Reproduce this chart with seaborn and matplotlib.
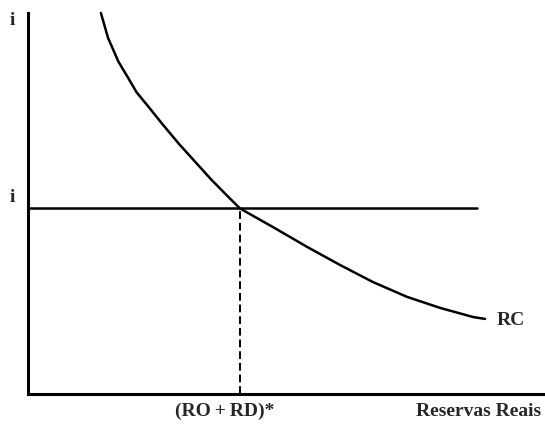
import numpy as np
import pandas as pd
import matplotlib
matplotlib.use('Agg')
import matplotlib.pyplot as plt
import seaborn as sns

# curva RC (escala 0-100)
reservas = [14.1, 15.5, 17.5, 19.4, 21.0, 23.3, 25.9, 29.1, 32.3, 35.5, 38.7, 41.0,
            47.4, 54.0, 60.3, 66.7, 73.3, 79.7, 86.1, 88.4]
juros = [100.0, 93.4, 87.2, 82.9, 79.2, 75.4, 71.0, 65.8, 61.0, 56.2, 51.8, 48.7,
         43.8, 38.6, 33.9, 29.4, 25.5, 22.6, 20.2, 19.7]

i_estrela = 48.7
reservas_estrela = 41.0
fim_horizontal = 86.8

sns.set_style('white')
plt.rcParams['font.family'] = ['Liberation Serif', 'DejaVu Serif']

fig = plt.figure(figsize=(5.45, 4.26), dpi=100)
ax = fig.add_axes([28 / 545, 32 / 426, 517 / 545, 381 / 426])

df = pd.DataFrame({'reservas': reservas, 'juros': juros})
sns.lineplot(data=df, x='reservas', y='juros', color='black', linewidth=1.8,
             sort=False, ax=ax, clip_on=False, solid_joinstyle='round')

# taxa de juros horizontal
ax.plot([0, fim_horizontal], [i_estrela, i_estrela], color='black', linewidth=1.8)
# linha tracejada no ponto de equilibrio
ax.plot([reservas_estrela, reservas_estrela], [0, i_estrela], color='black',
        linewidth=1.4, linestyle=(0, (4, 2)))

ax.set_xlim(0, 100)
ax.set_ylim(0, 100)
ax.set_xticks([])
ax.set_yticks([])
ax.set_xlabel('')
ax.set_ylabel('')
for lado in ['top', 'right']:
    ax.spines[lado].set_visible(False)
for lado in ['left', 'bottom']:
    ax.spines[lado].set_linewidth(2.2)
    ax.spines[lado].set_color('black')

fs = 14
fw = 'bold'
ax.text(-16 / 5.17, 98.0, 'i', fontsize=fs, fontweight=fw, ha='center', va='center')
ax.text(-16 / 5.17, i_estrela + 3.0, 'i', fontsize=fs, fontweight=fw, ha='center', va='center')
ax.text(90.7, 19.2, 'RC', fontsize=fs, fontweight=fw, ha='left', va='center')
ax.text(38.1, -4.6, '(RO\u2009+\u2009RD)*', fontsize=fs, fontweight=fw, ha='center', va='center')
ax.text(87.2, -4.6, 'Reservas Reais', fontsize=fs, fontweight=fw, ha='center', va='center')

fig.savefig('out.png', dpi=100)
